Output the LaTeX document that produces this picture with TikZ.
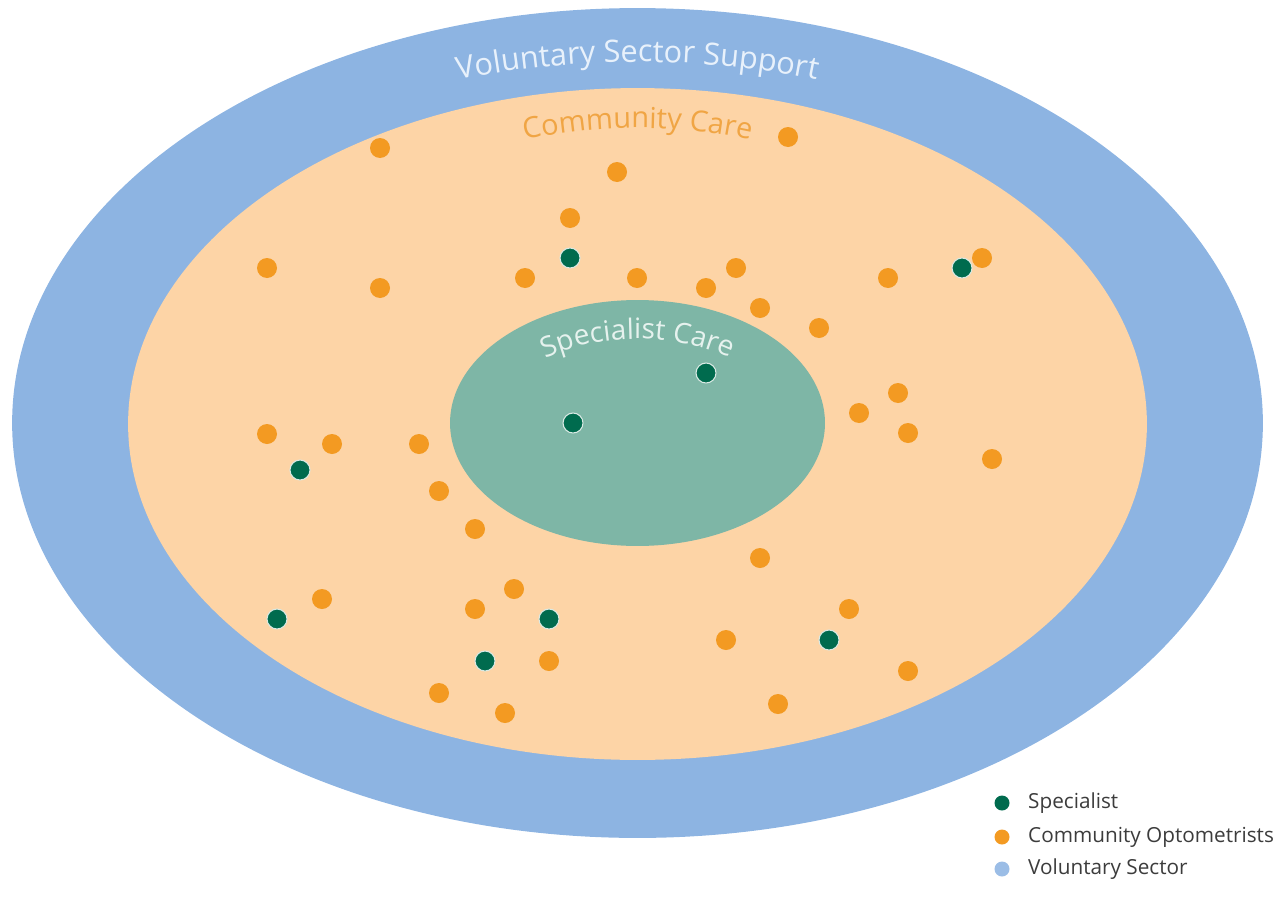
\documentclass[tikz,border=0pt]{standalone}
\usepackage{fontspec}
\setmainfont{Open Sans}
\usetikzlibrary{shapes.geometric,positioning,decorations.text}

\definecolor{volblue}{HTML}{8DB4E2}
\definecolor{commpeach}{HTML}{FDD4A6}
\definecolor{specteal}{HTML}{7EB6A6}
\definecolor{optorange}{HTML}{F39A22}
\definecolor{specgreen}{HTML}{006B4E}
\definecolor{legblue}{HTML}{9BBDE6}
\definecolor{voltext}{HTML}{E8F1FB}
\definecolor{commtext}{HTML}{F0A544}
\definecolor{spectext}{HTML}{E6F2EE}
\definecolor{legtext}{HTML}{3C3C3C}

\begin{document}
\begin{tikzpicture}[
    x = 0.02cm, % one unit is one pixel
    y = -0.02cm, % y runs down the page
    inner sep = 0pt
  ]

  \tikzstyle{zone}=[ellipse, inner sep=0pt]
  \tikzstyle{dot}=[circle, minimum size=0.4cm, inner sep=0pt]
  \tikzstyle{optdot}=[dot, fill=optorange]
  \tikzstyle{specdot}=[dot, fill=specgreen, draw=white!85!specgreen, line width=0.6pt]
  \tikzstyle{legdot}=[circle, minimum size=0.3cm, inner sep=0pt]
  \tikzstyle{legend}=[text=legtext, font=\fontsize{11.8}{14}\selectfont]

  \useasboundingbox (0,0) rectangle (1280,899);

  % the three care zones
  \node[zone, fill=volblue, minimum width=25.02cm, minimum height=16.6cm] (vol) at (637.5,423) {};
  \node[zone, fill=commpeach, minimum width=20.38cm, minimum height=13.44cm] (comm) at (637.5,424) {};
  \node[zone, fill=specteal, minimum width=7.5cm, minimum height=4.92cm] (spec) at (637.5,423) {};

  % curved zone titles
  \path[decorate, decoration={text along path, text align=center,
      text={|\fontsize{17.5}{20}\selectfont\color{voltext}|Voluntary Sector Support}}]
    (vol.center) ++(-150:580 and 361) arc[start angle=-150, end angle=-30, x radius=580, y radius=361];
  \path[decorate, decoration={text along path, text align=center,
      text={|\fontsize{16.5}{18}\selectfont\color{commtext}|Community Care}}]
    (comm.center) ++(-150:400 and 296) arc[start angle=-150, end angle=-30, x radius=400, y radius=296];
  \path[decorate, decoration={text along path, text align=center,
      text={|\fontsize{16}{18}\selectfont\color{spectext}|Specialist Care}}]
    (spec.center) ++(-170:145 and 84) arc[start angle=-170, end angle=-10, x radius=145, y radius=84];

  % community optometrists
  \foreach \x/\y [count=\i] in {380/148, 788/137, 617/172, 570/218, 267/268, 380/288,
      525/278, 637/278, 706/288, 736/268, 760/308, 819/328, 888/278, 982/258,
      898/393, 859/413, 908/433, 992/459, 267/434, 332/444, 419/444, 439/491,
      475/529, 760/558, 322/599, 475/609, 514/589, 849/609, 726/640, 549/661,
      908/671, 439/693, 505/713, 778/704}
    \node[optdot] (opt\i) at (\x,\y) {};

  % specialists
  \foreach \x/\y [count=\i] in {570/258, 962/268, 706/373, 573/423, 300/470,
      277/619, 549/619, 485/661, 829/640}
    \node[specdot] (spc\i) at (\x,\y) {};

  % legend
  \node[legdot, fill=specgreen] (lgspec) at (1002,803) {};
  \node[legdot, fill=optorange] (lgopt) at (1002,837) {};
  \node[legdot, fill=legblue] (lgvol) at (1002,869) {};
  \node[legend, right=0.36cm of lgspec] (lgspectxt) {Specialist};
  \node[legend, right=0.36cm of lgopt] (lgopttxt) {Community Optometrists};
  \node[legend, right=0.36cm of lgvol] (lgvoltxt) {Voluntary Sector};

\end{tikzpicture}
\end{document}
